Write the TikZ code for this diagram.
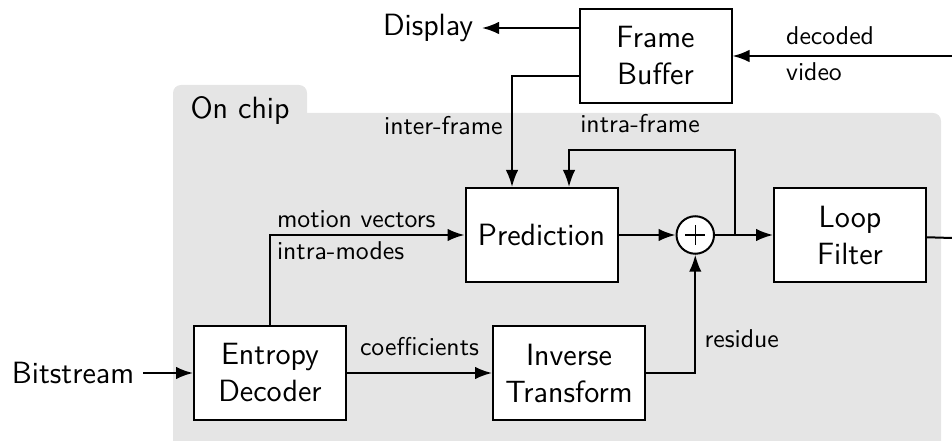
\documentclass[tikz,border=0pt]{standalone}
\usepackage{tikz}
\usetikzlibrary{arrows.meta,positioning}

\begin{document}
\begin{tikzpicture}[x=0.4pt, y=0.4pt, node distance=20pt,
    font=\sffamily\fontsize{12.3}{14.8}\selectfont,
    block/.style={draw, fill=white, line width=0.8pt, minimum width=60.8pt, minimum height=37.6pt, align=center},
    adder/.style={draw, fill=white, circle, line width=0.8pt, minimum size=15pt, inner sep=0pt,
      path picture={\draw[line width=0.6pt] (-4pt,0pt) -- (4pt,0pt) (0pt,-4pt) -- (0pt,4pt);}},
    lbl/.style={font=\sffamily\fontsize{10.3}{12.4}\selectfont},
    wire/.style={line width=0.8pt, -{Latex[length=6.8pt, width=5pt]}}]
        \useasboundingbox (0,0) rectangle (952,440);

        % on-chip area
        \fill[gray!20, rounded corners=3.2pt] (173,-10) rectangle (307,355);
        \fill[gray!20, rounded corners=3.2pt] (173,-10) rectangle (941,327);
        \node[anchor=base west, inner sep=0pt] (chip) at (190,321) {On chip};

        \node[block] (ED) at (270,67) {Entropy\\Decoder};
        \node[block] (IT) [right=58pt of ED] {Inverse\\Transform};
        \node[block] (P) [above=16.8pt of IT, xshift=-11pt] {Prediction};
        \node[adder] (S) [right=22.8pt of P] {};
        \node[block] (LF) [right=23.2pt of S] {Loop\\Filter};
        \node[block] (FB) at (655.5,384) {Frame\\Buffer};

        \node (B) [left=20pt of ED] {Bitstream};
        \node[anchor=east] (D) at (482,412) {Display};
        \coordinate (V) at (952,384);
        \coordinate (O) at (952,202);
        \coordinate (K) at ([xshift=8pt]S.east);

        \path[wire]
          (B) edge (ED)
          (ED) edge node[lbl, above=3pt] {coefficients} (IT)
          (P) edge (S)
          (S) edge (LF);

        \draw[wire] (D -| FB.west) -- (D);
        \draw[wire] (ED) |- node[lbl, pos=0.5, anchor=south west, inner sep=2.4pt] {motion vectors}
                            node[lbl, pos=0.5, anchor=north west, inner sep=2.4pt] {intra-modes} (P);
        \draw[wire] (IT) -| node[lbl, pos=0.645, right] {residue} (S);
        \draw[wire] ([yshift=-8pt]FB.west) -| node[lbl, pos=0.725, left] {inter-frame} ([xshift=-11.8pt]P.north);
        \draw[wire] (K) -- ++(0pt,34pt) -| node[lbl, pos=0.286, above=3pt] {intra-frame} ([xshift=11pt]P.north);
        \draw[wire] (V) -- node[lbl, pos=0.76, anchor=south west, inner xsep=0pt, inner ysep=4pt] {decoded}
                           node[lbl, pos=0.76, anchor=north west, inner xsep=0pt, inner ysep=2.4pt] {video} (FB);
        \draw[line width=0.8pt] (LF) -- (O);
  \end{tikzpicture}
\end{document}
